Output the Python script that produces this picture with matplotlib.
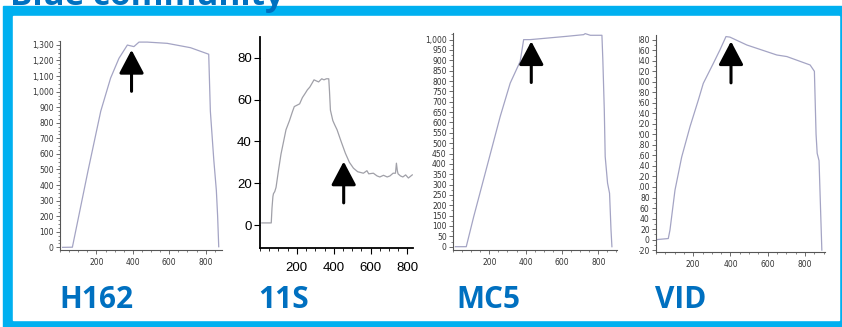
import matplotlib
matplotlib.use("Agg")
import matplotlib.pyplot as plt
import matplotlib.patches as mpatches
from matplotlib.ticker import MultipleLocator, FuncFormatter

# --- data ---
h162_x = [14, 68, 154, 224, 278, 324, 370, 406, 434, 479, 589, 717, 817, 826, 845, 859, 866, 872]
h162_y = [0, 1, 492, 875, 1087, 1214, 1299, 1289, 1318, 1318, 1310, 1282, 1240, 875, 560, 365, 200, 4]

s11_x = [10, 61, 65, 70, 73, 80, 87, 100, 114, 128, 141, 160, 175, 186, 204, 215, 230, 245, 257, 270, 280, 293,
         305, 318, 329, 335, 347, 360, 373, 377, 382, 395, 405, 418, 440, 463, 485, 507, 530, 561, 580, 590,
         615, 635, 650, 670, 690, 705, 722, 735, 740, 745, 749, 762, 775, 790, 805, 826]
s11_y = [1, 1, 8, 13.6, 15, 16, 18, 26, 34, 40, 45.6, 50, 54, 56.7, 57.5, 58, 61, 63, 64.7, 66, 67.5, 69.5,
         69, 68.5, 69.5, 70, 69.5, 70, 70, 64, 55, 50, 48, 45.6, 40, 34.4, 30, 27.2, 25.5, 24.8, 26, 24.5,
         24.8, 23.5, 23, 23.8, 23, 23.5, 24.8, 24.8, 29.6, 26, 24.5, 23.5, 23, 24, 22.5, 24]

mc5_x = [13, 73, 114, 187, 260, 315, 370, 389, 425, 627, 719, 728, 756, 820, 825, 833, 838, 851, 862, 870, 875]
mc5_y = [0, 0, 145, 387, 629, 790, 895, 1000, 1000, 1016, 1024, 1029, 1021, 1021, 903, 661, 435, 307, 258, 81, 0]

vid_x = [4, 66, 75, 102, 138, 183, 228, 254, 308, 344, 376, 397, 488, 649, 703, 828, 851, 860, 866, 876, 891]
vid_y = [0, 2, 18, 94, 157, 215, 266, 297, 335, 361, 386, 385, 370, 351, 348, 332, 320, 200, 164, 150, -20]

names = ["H162", "11S", "MC5", "VID"]
arrow_x = [393, 454, 431, 403]
arrow_tip = [1268, 30.4, 992, 377]
arrow_tail = [1002, 10.6, 793, 298]

W, H = 842, 327
BORDER = "#00B0F0"
TEXT_BLUE = "#0070C0"
LINE = "#a4a4c4"

fig = plt.figure(figsize=(W / 100, H / 100), dpi=100)


def px_rect(l, t, r, b):
    return [l / W, 1 - b / H, (r - l) / W, (b - t) / H]


# blue frame
fig.patches.append(mpatches.Rectangle((3 / W, 0), 1, 1 - 6 / H, transform=fig.transFigure,
                                      color=BORDER, zorder=-2))
fig.patches.append(mpatches.Rectangle((13 / W, 1 - 320 / H), (839 - 13) / W, (320 - 16) / H,
                                      transform=fig.transFigure, color="white", zorder=-1))
fig.text(10 / W, 1 - 5 / H, "Blue community", color=TEXT_BLUE, fontsize=24, fontweight="bold",
         family="Open Sans", va="baseline", ha="left", zorder=5)

comma = FuncFormatter(lambda v, p: f"{v:,.0f}")


def small_style(ax, ymajor, yminor):
    for s in ["top", "right"]:
        ax.spines[s].set_visible(False)
    for s in ["left", "bottom"]:
        ax.spines[s].set_color("#555555")
        ax.spines[s].set_linewidth(0.8)
    ax.patch.set_alpha(0)
    ax.set_zorder(1)
    ax.xaxis.set_major_locator(MultipleLocator(200))
    ax.xaxis.set_minor_locator(MultipleLocator(50))
    ax.yaxis.set_major_locator(MultipleLocator(ymajor))
    ax.yaxis.set_minor_locator(MultipleLocator(yminor))
    ax.yaxis.set_major_formatter(comma)
    ax.tick_params(which="major", length=3, width=0.6, labelsize=5.5, pad=1.5,
                   colors="#555555", labelcolor="#333333")
    ax.tick_params(which="minor", length=1.5, width=0.5, colors="#555555")
    ax.tick_params(axis="x", pad=3)
    ax.set_xticks([200, 400, 600, 800])


def draw_arrow(ax, i):
    ax.annotate("", xy=(arrow_x[i], arrow_tip[i]), xytext=(arrow_x[i], arrow_tail[i]),
                arrowprops=dict(arrowstyle="-|>,head_length=0.72,head_width=0.38",
                                color="black", lw=2.2, mutation_scale=20,
                                shrinkA=0, shrinkB=0))


# H162
ax1 = fig.add_axes(px_rect(60, 41, 222, 250))
ax1.plot(h162_x, h162_y, color=LINE, lw=0.9)
ax1.set_xlim(0, 890)
ax1.set_ylim(-17, 1325)
small_style(ax1, 100, 25)
draw_arrow(ax1, 0)

# 11S
ax2 = fig.add_axes(px_rect(260, 37, 413, 248))
ax2.set_zorder(1)
ax2.plot(s11_x, s11_y, color="#a0a0a8", lw=0.9)
ax2.set_xlim(0, 830)
ax2.set_ylim(-11, 90)
for s in ["top", "right"]:
    ax2.spines[s].set_visible(False)
for s in ["left", "bottom"]:
    ax2.spines[s].set_linewidth(1.3)
ax2.patch.set_alpha(0)
ax2.set_yticks([0, 20, 40, 60, 80])
ax2.set_xticks([200, 400, 600, 800])
ax2.xaxis.set_minor_locator(MultipleLocator(50))
ax2.tick_params(which="major", length=4, width=0.8, pad=2)
ax2.tick_params(which="minor", length=2.5, width=0.6)
for lab in ax2.get_yticklabels() + ax2.get_xticklabels():
    lab.set_family(["Liberation Sans", "DejaVu Sans"])
    lab.set_fontstretch("condensed")
    lab.set_fontsize(9.5)
ax2.tick_params(axis="x", pad=6)
draw_arrow(ax2, 1)

# MC5
ax3 = fig.add_axes(px_rect(453, 33, 617, 250))
ax3.plot(mc5_x, mc5_y, color=LINE, lw=0.9)
ax3.set_xlim(0, 903)
ax3.set_ylim(-16, 1032)
small_style(ax3, 50, 25)
draw_arrow(ax3, 2)

# VID
ax4 = fig.add_axes(px_rect(656, 35, 825, 252))
ax4.plot(vid_x, vid_y, color=LINE, lw=0.9)
ax4.set_xlim(0, 908)
ax4.set_ylim(-23.6, 389)
small_style(ax4, 20, 10)
draw_arrow(ax4, 3)

# the neighbouring picture hides the left edge of the VID labels
fig.patches.append(mpatches.Rectangle((619 / W, 1 - 258 / H), (637.5 - 619) / W, 226 / H,
                                      transform=fig.transFigure, color="white", zorder=3))

# community member labels
for name, left in zip(names, [59, 258, 456, 655]):
    fig.text(left / W, 1 - 308 / H, name, color=TEXT_BLUE, fontsize=21.5, fontweight="bold",
             family="Open Sans", va="baseline", ha="left")

fig.savefig("out.png", dpi=100)
